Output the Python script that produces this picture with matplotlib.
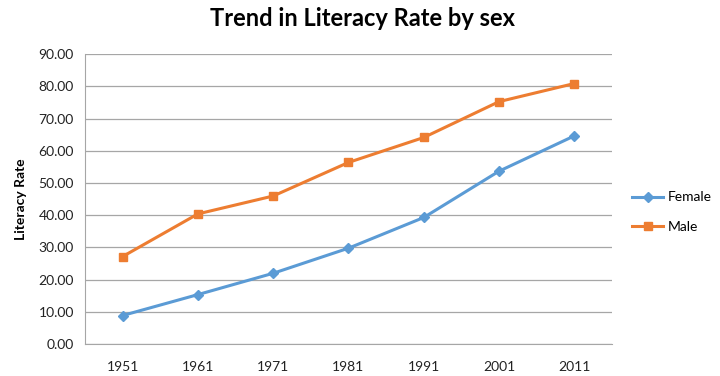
import matplotlib.pyplot as plt
import numpy as np

plt.rcParams['font.family'] = ['Lato', 'DejaVu Sans']

years = ['1951', '1961', '1971', '1981', '1991', '2001', '2011']
female = [8.86, 15.35, 21.97, 29.76, 39.29, 53.67, 64.63]
male = [27.16, 40.40, 45.96, 56.38, 64.13, 75.26, 80.88]

fig = plt.figure(figsize=(7.2, 3.76), dpi=100)
ax = fig.add_axes([0.118, 0.085, 0.732, 0.771])

x = np.arange(len(years))
ax.plot(x, female, color='#5B9BD5', lw=2.2, marker='D', ms=5, label='Female')
ax.plot(x, male, color='#ED7D31', lw=2.2, marker='s', ms=6, label='Male')

ax.set_xlim(-0.5, len(years) - 0.5)
ax.set_ylim(0, 90)
ax.set_yticks(np.arange(0, 91, 10))
ax.set_yticklabels(['%.2f' % v for v in np.arange(0, 91, 10)])
ax.set_xticks(x)
ax.set_xticklabels(years)
ax.tick_params(length=0, labelsize=10, colors='#222222')
ax.tick_params(axis='x', pad=12)
ax.tick_params(axis='y', pad=8)

ax.grid(axis='y', color='#A6A6A6', lw=0.9)
ax.set_axisbelow(True)
for s in ['top', 'right']:
    ax.spines[s].set_visible(False)
ax.spines['left'].set_color('#A6A6A6')
ax.spines['bottom'].set_color('#A6A6A6')

ax.set_ylabel('Literacy Rate', fontsize=10, fontweight='bold', labelpad=8)
fig.text(0.503, 0.95, 'Trend in Literacy Rate by sex', ha='center', va='center',
         fontsize=17, fontweight='bold')

ax.legend(loc='center left', bbox_to_anchor=(1.02, 0.455), frameon=False,
          fontsize=10, handlelength=2.2, handletextpad=0.35, labelspacing=1.25,
          borderaxespad=0.3)

fig.savefig('out.png', dpi=100)
